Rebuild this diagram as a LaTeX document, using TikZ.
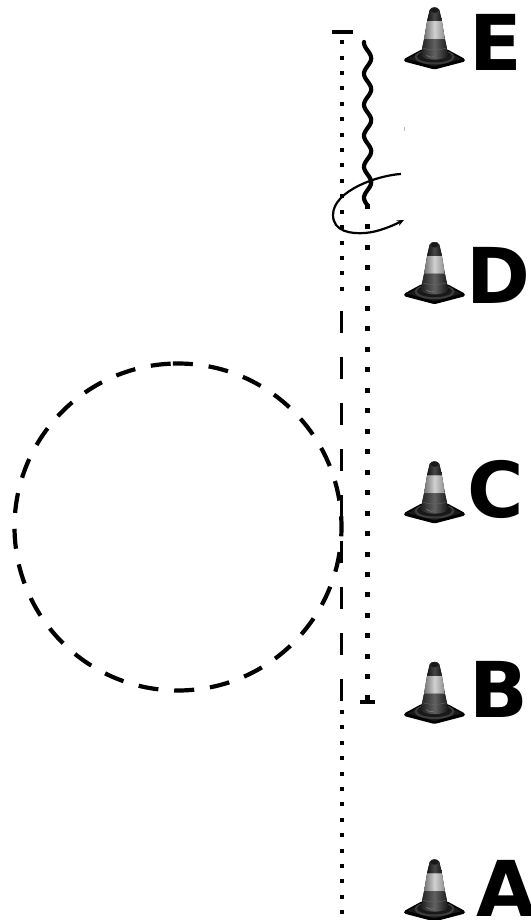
\documentclass[tikz,border=0pt]{standalone}
\usepackage{fontspec}
\setmainfont{DejaVu Sans}
\usetikzlibrary{arrows.meta}
\definecolor{conea}{gray}{0.10}
\definecolor{coneb}{gray}{0.20}
\definecolor{conec}{gray}{0.24}
\tikzset{
  conedark/.style={left color=black!92,right color=black!92,middle color=black!72},
  conestripe/.style={left color=black!55,right color=black!45,middle color=black!18},
  conelow/.style={left color=black!88,right color=black!92,middle color=black!62},
  conemark/.style={font=\bfseries\fontsize{77}{77}\selectfont,anchor=base west,inner sep=0pt,outer sep=0pt},
  dotline/.style={line width=4pt,dash pattern=on 4pt off 11.4pt},
  dotlineb/.style={line width=5pt,dash pattern=on 5pt off 15.46pt},
  longdash/.style={line width=3.8pt,dash pattern=on 22pt off 24pt},
  ringdash/.style={line width=4.2pt,dash pattern=on 20pt off 15.9pt},
  cone/.pic={
    % base
    \fill[black,rounded corners=1.5pt] (-30.5,52) -- (-13,42.5) -- (13,42.5) -- (30.5,52) -- (30.5,54.5) -- (0,62.5) -- (-30.5,54.5) -- cycle;
    \fill[conea] (-27,52) -- (-12,44) -- (12,44) -- (27,52) -- (0,59.5) -- cycle;
    \fill[conec] (0,50) ellipse (20 and 7.5);
    \fill[conea] (0,49.5) ellipse (17.5 and 6);
    % body
    \fill[conelow] (-10.4,32) -- (10.4,32) -- (14,49) .. controls (8,54) and (-8,54) .. (-14,49) -- cycle;
    \fill[conestripe] (-7.4,14) -- (7.4,14) -- (10.4,32) -- (-10.4,32) -- cycle;
    \fill[conedark] (-7.4,14) -- (-4.8,3) .. controls (-3.6,-0.6) and (3.6,-0.6) .. (4.8,3) -- (7.4,14) -- cycle;
    \fill[conea] (0,3.2) ellipse (3.8 and 2.6);
    \draw[black!60,line width=0.4pt] (-11.8,41) .. controls (-6,43.5) and (6,43.5) .. (11.8,41);
    \draw[black!45,line width=0.4pt] (-8,48) .. controls (-6,50.5) and (-2,50.5) .. (-1,49.5);
  }
}
\begin{document}
\begin{tikzpicture}[x=1pt,y=-1pt]
\useasboundingbox (0,0) rectangle (530,920);
% left line
\coordinate (lt) at (341.5,40.3);
\coordinate (lm) at (341.5,298);
\coordinate (ld1) at (341.5,311);
\coordinate (ld2) at (341.5,703);
\coordinate (lb1) at (341.5,710);
\coordinate (lb2) at (341.5,916);
\draw[dotline] (lt) -- (lm);
\draw[longdash] (ld1) -- (ld2);
\draw[dotline] (lb1) -- (lb2);
\draw[line width=4.6pt] (332,32) -- (353,32);
% right line
\coordinate (rt) at (367.3,203.7);
\coordinate (rb) at (367.3,700);
\draw[dotlineb] (rt) -- (rb);
\draw[line width=4.4pt] (360,702) -- (375,702);
% wavy
\draw[line width=4.2pt,line cap=round,line join=round]
  plot[smooth,samples=90,domain=42:206,variable=\t] ({367.6+3.6*sin((\t-50.5)*11.613)},\t);
% ring
\draw[ringdash] (178,527) ++(-91.8:163.5) arc[start angle=-91.8,end angle=268.2,radius=163.5];
% curved arrow
\draw[line width=2.2pt,-{Stealth[length=7pt,width=6pt]}] (401,174)
  .. controls (380,175) and (333,190) .. (333,215)
  .. controls (333,232) and (352,234) .. (365,233)
  .. controls (378,232) and (392,226) .. (404,220);
% faint tick
\draw[black!25,line width=0.5pt] (404,127.5) -- (404,131);
% cones
\pic at (434.5,7) {cone};
\pic at (434.5,241.7) {cone};
\pic at (434.5,461) {cone};
\pic at (434.5,661.5) {cone};
\pic at (434.5,859) {cone};
% labels
\node[conemark] (E) at (469,71) {E};
\node[conemark] (D) at (466,303) {D};
\node[conemark] (C) at (467,517) {C};
\node[conemark] (B) at (469,717) {B};
\node[conemark] (A) at (476,916.5) {A};
\end{tikzpicture}
\end{document}
